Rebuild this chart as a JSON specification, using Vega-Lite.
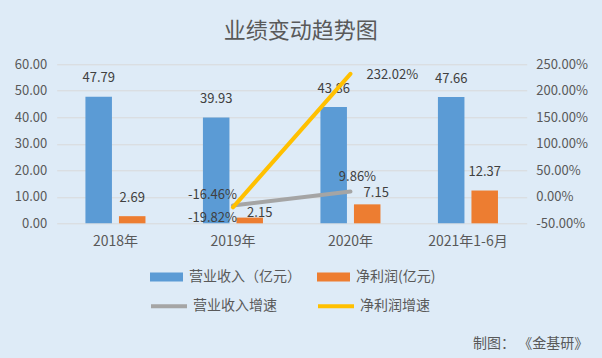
{
  "$schema": "https://vega.github.io/schema/vega-lite/v6.json",
  "width": 470,
  "height": 159,
  "autosize": {"type": "none"},
  "padding": {"left": 56.7, "top": 64.3, "right": 75.3, "bottom": 134.7},
  "background": "#DEEBF7",
  "title": {
    "text": "业绩变动趋势图",
    "fontSize": 22,
    "font": "Noto Sans CJK SC",
    "fontWeight": "normal",
    "color": "#595959",
    "anchor": "middle",
    "dx": 9,
    "offset": 15
  },
  "config": {
    "locale": {"number": {"decimal": ".", "thousands": ",", "grouping": [3], "currency": ["$", ""], "minus": "-"}},
    "view": {"stroke": null},
    "font": "Noto Sans CJK SC",
    "axis": {
      "labelFont": "Noto Sans CJK SC",
      "labelColor": "#595959",
      "titleFont": "Noto Sans CJK SC",
      "domain": false,
      "ticks": false
    },
    "legend": {"labelFont": "Noto Sans CJK SC"}
  },
  "datasets": {
    "bars": [
      {"period": "2018年", "series": "营业收入（亿元）", "value": 47.79},
      {"period": "2018年", "series": "净利润(亿元)", "value": 2.69},
      {"period": "2019年", "series": "营业收入（亿元）", "value": 39.93},
      {"period": "2019年", "series": "净利润(亿元)", "value": 2.15},
      {"period": "2020年", "series": "营业收入（亿元）", "value": 43.86},
      {"period": "2020年", "series": "净利润(亿元)", "value": 7.15},
      {"period": "2021年1-6月", "series": "营业收入（亿元）", "value": 47.66},
      {"period": "2021年1-6月", "series": "净利润(亿元)", "value": 12.37}
    ],
    "rates": [
      {"period": "2019年", "series": "营业收入增速", "rate": -0.1646},
      {"period": "2020年", "series": "营业收入增速", "rate": 0.0986},
      {"period": "2019年", "series": "净利润增速", "rate": -0.1982},
      {"period": "2020年", "series": "净利润增速", "rate": 2.3202}
    ]
  },
  "layer": [
    {
      "data": {"name": "bars"},
      "encoding": {
        "x": {
          "field": "period",
          "type": "nominal",
          "sort": ["2018年", "2019年", "2020年", "2021年1-6月"],
          "scale": {"paddingInner": 0.489, "paddingOuter": 0.2445},
          "axis": {
            "labelAngle": 0,
            "labelFontSize": 14,
            "labelPadding": 11,
            "title": "制图： 《金基研》",
            "titleFontSize": 14,
            "titleFontWeight": "normal",
            "titleColor": "#595959",
            "titleAlign": "right",
            "titleBaseline": "middle",
            "titleX": 531,
            "titleY": 120
          }
        },
        "xOffset": {
          "field": "series",
          "type": "nominal",
          "sort": ["营业收入（亿元）", "净利润(亿元)"],
          "scale": {"paddingInner": 0.209, "paddingOuter": 0}
        },
        "y": {
          "field": "value",
          "type": "quantitative",
          "scale": {"domain": [0, 60], "nice": false},
          "axis": {
            "orient": "left",
            "title": null,
            "values": [0, 10, 20, 30, 40, 50, 60],
            "format": ".2f",
            "labelFontSize": 13,
            "labelPadding": 10,
            "grid": true,
            "gridColor": "#D9D9D9",
            "gridWidth": 1
          }
        }
      },
      "layer": [
        {
          "mark": {"type": "bar"},
          "encoding": {
            "fill": {
              "field": "series",
              "type": "nominal",
              "sort": ["营业收入（亿元）", "净利润(亿元)"],
              "scale": {"domain": ["营业收入（亿元）", "净利润(亿元)"], "range": ["#5B9BD5", "#ED7D31"]},
              "legend": {
                "title": null,
                "orient": "none",
                "legendX": 93.3,
                "legendY": 196,
                "direction": "horizontal",
                "columns": 2,
                "padding": 0,
                "symbolType": "M-1,-0.27H1V0.27H-1Z",
                "symbolSize": 1089,
                "symbolStrokeWidth": 0,
                "labelFontSize": 14,
                "labelColor": "#595959",
                "labelOffset": 6,
                "columnPadding": 16
              }
            }
          }
        },
        {
          "transform": [{"filter": "datum.period !== '2019年' && datum.period !== '2020年' || datum.series === '营业收入（亿元）'"}],
          "mark": {"type": "text", "baseline": "middle", "dy": -18.5, "fontSize": 13, "color": "#404040"},
          "encoding": {
            "text": {"field": "value", "type": "quantitative", "format": ".2f"}
          }
        },
        {
          "transform": [{"filter": "datum.period === '2019年' && datum.series === '净利润(亿元)'"}],
          "mark": {"type": "text", "baseline": "middle", "dx": 10, "dy": -5, "fontSize": 13, "color": "#404040"},
          "encoding": {
            "text": {"field": "value", "type": "quantitative", "format": ".2f"}
          }
        },
        {
          "transform": [{"filter": "datum.period === '2020年' && datum.series === '净利润(亿元)'"}],
          "mark": {"type": "text", "baseline": "middle", "dx": 9, "dy": -11, "fontSize": 13, "color": "#404040"},
          "encoding": {
            "text": {"field": "value", "type": "quantitative", "format": ".2f"}
          }
        }
      ]
    },
    {
      "data": {"name": "rates"},
      "encoding": {
        "x": {
          "field": "period",
          "type": "nominal",
          "sort": ["2018年", "2019年", "2020年", "2021年1-6月"]
        },
        "y": {
          "field": "rate",
          "type": "quantitative",
          "scale": {"domain": [-0.5, 2.5], "nice": false},
          "axis": {
            "orient": "right",
            "title": null,
            "values": [-0.5, 0, 0.5, 1, 1.5, 2, 2.5],
            "format": ".2%",
            "labelFontSize": 13,
            "labelPadding": 9,
            "grid": false
          }
        }
      },
      "layer": [
        {
          "mark": {"type": "line", "strokeWidth": 4, "strokeCap": "round"},
          "encoding": {
            "stroke": {
              "field": "series",
              "type": "nominal",
              "sort": ["营业收入增速", "净利润增速"],
              "scale": {"domain": ["营业收入增速", "净利润增速"], "range": ["#A5A5A5", "#FFC000"]},
              "legend": {
                "title": null,
                "orient": "none",
                "legendX": 92.3,
                "legendY": 222,
                "direction": "horizontal",
                "columns": 2,
                "padding": 0,
                "symbolType": "stroke",
                "symbolSize": 1296,
                "symbolStrokeWidth": 4,
                "labelFontSize": 14,
                "labelColor": "#595959",
                "labelOffset": 4,
                "columnPadding": 33
              }
            }
          }
        },
        {
          "transform": [{"filter": "datum.series === '营业收入增速' && datum.period === '2019年'"}],
          "mark": {"type": "text", "align": "right", "baseline": "middle", "dx": 4, "dy": -11, "fontSize": 13, "color": "#404040"},
          "encoding": {"text": {"field": "rate", "type": "quantitative", "format": ".2%"}}
        },
        {
          "transform": [{"filter": "datum.series === '营业收入增速' && datum.period === '2020年'"}],
          "mark": {"type": "text", "align": "center", "baseline": "middle", "dx": 7, "dy": -15, "fontSize": 13, "color": "#404040"},
          "encoding": {"text": {"field": "rate", "type": "quantitative", "format": ".2%"}}
        },
        {
          "transform": [{"filter": "datum.series === '净利润增速' && datum.period === '2019年'"}],
          "mark": {"type": "text", "align": "right", "baseline": "middle", "dx": 4, "dy": 11, "fontSize": 13, "color": "#404040"},
          "encoding": {"text": {"field": "rate", "type": "quantitative", "format": ".2%"}}
        },
        {
          "transform": [{"filter": "datum.series === '净利润增速' && datum.period === '2020年'"}],
          "mark": {"type": "text", "align": "left", "baseline": "middle", "dx": 16, "dy": 1, "fontSize": 13, "color": "#404040"},
          "encoding": {"text": {"field": "rate", "type": "quantitative", "format": ".2%"}}
        }
      ]
    }
  ],
  "resolve": {"scale": {"y": "independent"}}
}
